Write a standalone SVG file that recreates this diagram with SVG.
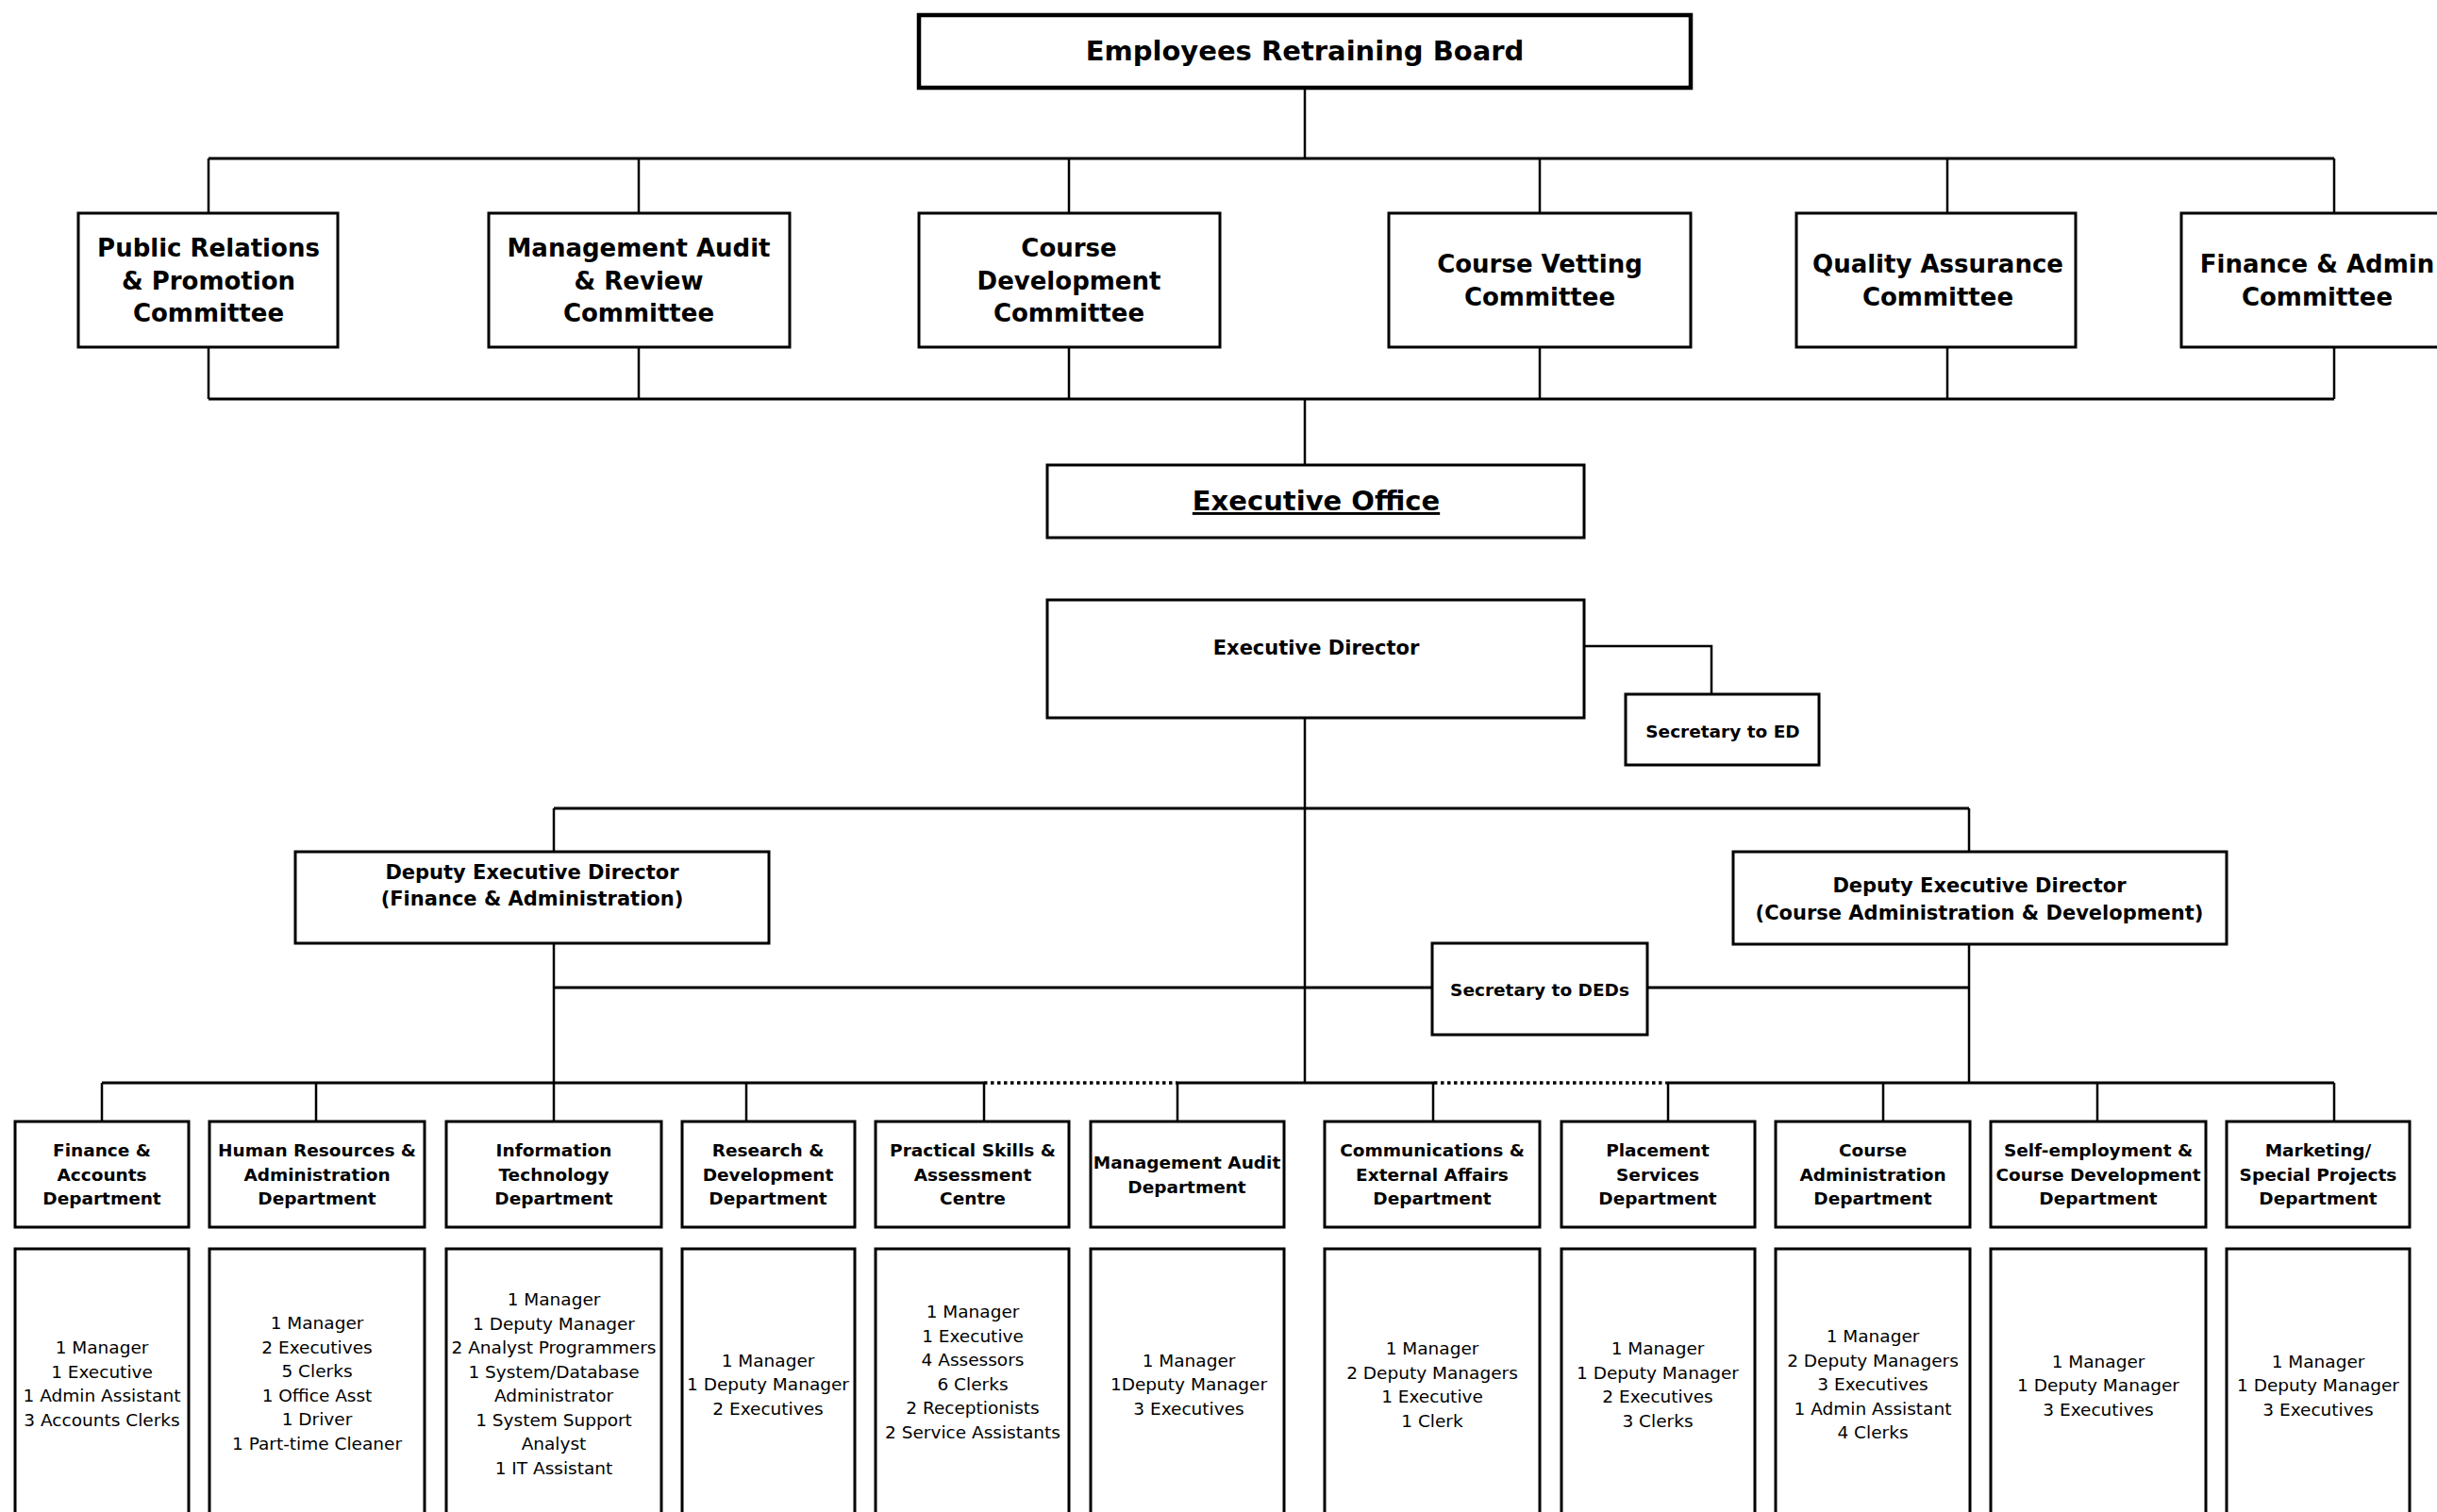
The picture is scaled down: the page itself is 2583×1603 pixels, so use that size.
<svg xmlns="http://www.w3.org/2000/svg" width="2583" height="1603" viewBox="0 0 2583 1603">
<style>
.box{fill:#fff;stroke:#000;stroke-width:3}
.board{stroke-width:4.5}
.ln{stroke:#000;stroke-width:2.5;fill:none}
.bus{stroke-width:3.2}
.dot{stroke-dasharray:3.5 3.5;stroke-width:3.5}
text{font-family:"DejaVu Sans",Verdana,sans-serif;text-anchor:middle;fill:#000}
.b{font-weight:bold}
.c{font-size:26px;font-weight:bold}
.h{font-size:18.5px;font-weight:bold}
.s{font-size:18.5px}
</style>
<rect width="2583" height="1603" fill="#fff"/>
<g id="connectors">
<path class="ln" d="M1383 94V168"/>
<path class="ln bus" d="M221 168H2474"/>
<path class="ln" d="M221 168V226M677 168V226M1133 168V226M1632 168V226M2064 168V226M2474 168V226"/>
<path class="ln" d="M221 368V423M677 368V423M1133 368V423M1632 368V423M2064 368V423M2474 368V423"/>
<path class="ln bus" d="M221 423H2474"/>
<path class="ln" d="M1383 423V493"/>
<path class="ln" d="M1679 685H1814V736"/>
<path class="ln" d="M1383 761V1148"/>
<path class="ln bus" d="M587 857H2087"/>
<path class="ln" d="M587 857V903M2087 857V903"/>
<path class="ln" d="M587 1000V1148M2087 1001V1148"/>
<path class="ln bus" d="M587 1047H1518M1746 1047H2087"/>
<path class="ln bus" d="M108 1148H1043M1248 1148H1520M1765 1148H2474"/>
<path class="ln dot" d="M1043 1148H1248M1520 1148H1765"/>
<path class="ln" d="M108 1148V1189M335 1148V1189M587 1148V1189M791 1148V1189M1043 1148V1189M1248 1148V1189M1519 1148V1189M1768 1148V1189M1996 1148V1189M2223 1148V1189M2474 1148V1189"/>
</g>
<g id="board"><rect class="box board" x="974" y="16" width="818" height="77"/><text class="b" x="1383" y="64" font-size="29">Employees Retraining Board</text></g>
<g id="cm-pr"><rect class="box" x="83" y="226" width="275" height="142"/><text class="c" x="221"><tspan x="221" y="272">Public Relations</tspan><tspan x="221" y="306.5">&amp; Promotion</tspan><tspan x="221" y="341">Committee</tspan></text></g>
<g id="cm-ma"><rect class="box" x="518" y="226" width="319" height="142"/><text class="c" x="677"><tspan x="677" y="272">Management Audit</tspan><tspan x="677" y="306.5">&amp; Review</tspan><tspan x="677" y="341">Committee</tspan></text></g>
<g id="cm-cd"><rect class="box" x="974" y="226" width="319" height="142"/><text class="c" x="1133"><tspan x="1133" y="272">Course</tspan><tspan x="1133" y="306.5">Development</tspan><tspan x="1133" y="341">Committee</tspan></text></g>
<g id="cm-cv"><rect class="box" x="1472" y="226" width="320" height="142"/><text class="c" x="1632"><tspan x="1632" y="289">Course Vetting</tspan><tspan x="1632" y="324">Committee</tspan></text></g>
<g id="cm-qa"><rect class="box" x="1904" y="226" width="296" height="142"/><text class="c" x="2054"><tspan x="2054" y="289">Quality Assurance</tspan><tspan x="2054" y="324">Committee</tspan></text></g>
<g id="cm-fa"><rect class="box" x="2312" y="226" width="300" height="142"/><text class="c" x="2456"><tspan x="2456" y="289">Finance &amp; Admin</tspan><tspan x="2456" y="324">Committee</tspan></text></g>
<g id="exec-office"><rect class="box" x="1110" y="493" width="569" height="77"/><text class="b" x="1395" y="541" font-size="29" text-decoration="underline">Executive Office</text></g>
<g id="exec-director"><rect class="box" x="1110" y="636" width="569" height="125"/><text class="b" x="1395" y="694" font-size="21">Executive Director</text></g>
<g id="sec-ed"><rect class="box" x="1723" y="736" width="205" height="75"/><text class="h" x="1826" y="782">Secretary to ED</text></g>
<g id="ded-fa"><rect class="box" x="313" y="903" width="502" height="97"/><text class="b" font-size="21"><tspan x="564" y="932">Deputy Executive Director</tspan><tspan x="564" y="960">(Finance &amp; Administration)</tspan></text></g>
<g id="ded-cad"><rect class="box" x="1837" y="903" width="523" height="98"/><text class="b" font-size="21"><tspan x="2098" y="946">Deputy Executive Director</tspan><tspan x="2098" y="975">(Course Administration &amp; Development)</tspan></text></g>
<g id="sec-deds"><rect class="box" x="1518" y="1000" width="228" height="97"/><text class="h" x="1632" y="1056">Secretary to DEDs</text></g>
<g id="d-fin"><rect class="box" x="16" y="1189" width="184" height="112"/><text class="h"><tspan x="108" y="1226">Finance &amp;</tspan><tspan x="108" y="1251.5">Accounts</tspan><tspan x="108" y="1277">Department</tspan></text>
<rect class="box" x="16" y="1324" width="184" height="300"/><text class="s"><tspan x="108" y="1435">1 Manager</tspan><tspan x="108" y="1460.5">1 Executive</tspan><tspan x="108" y="1486">1 Admin Assistant</tspan><tspan x="108" y="1511.5">3 Accounts Clerks</tspan></text></g>
<g id="d-hr"><rect class="box" x="222" y="1189" width="228" height="112"/><text class="h"><tspan x="336" y="1226">Human Resources &amp;</tspan><tspan x="336" y="1251.5">Administration</tspan><tspan x="336" y="1277">Department</tspan></text>
<rect class="box" x="222" y="1324" width="228" height="300"/><text class="s"><tspan x="336" y="1409">1 Manager</tspan><tspan x="336" y="1434.5">2 Executives</tspan><tspan x="336" y="1460">5 Clerks</tspan><tspan x="336" y="1485.5">1 Office Asst</tspan><tspan x="336" y="1511">1 Driver</tspan><tspan x="336" y="1536.5">1 Part-time Cleaner</tspan></text></g>
<g id="d-it"><rect class="box" x="473" y="1189" width="228" height="112"/><text class="h"><tspan x="587" y="1226">Information</tspan><tspan x="587" y="1251.5">Technology</tspan><tspan x="587" y="1277">Department</tspan></text>
<rect class="box" x="473" y="1324" width="228" height="300"/><text class="s"><tspan x="587" y="1384">1 Manager</tspan><tspan x="587" y="1409.5">1 Deputy Manager</tspan><tspan x="587" y="1435">2 Analyst Programmers</tspan><tspan x="587" y="1460.5">1 System/Database</tspan><tspan x="587" y="1486">Administrator</tspan><tspan x="587" y="1511.5">1 System Support</tspan><tspan x="587" y="1537">Analyst</tspan><tspan x="587" y="1562.5">1 IT Assistant</tspan></text></g>
<g id="d-rd"><rect class="box" x="723" y="1189" width="183" height="112"/><text class="h"><tspan x="814" y="1226">Research &amp;</tspan><tspan x="814" y="1251.5">Development</tspan><tspan x="814" y="1277">Department</tspan></text>
<rect class="box" x="723" y="1324" width="183" height="300"/><text class="s"><tspan x="814" y="1448.5">1 Manager</tspan><tspan x="814" y="1474">1 Deputy Manager</tspan><tspan x="814" y="1499.5">2 Executives</tspan></text></g>
<g id="d-ps"><rect class="box" x="928" y="1189" width="205" height="112"/><text class="h"><tspan x="1031" y="1226">Practical Skills &amp;</tspan><tspan x="1031" y="1251.5">Assessment</tspan><tspan x="1031" y="1277">Centre</tspan></text>
<rect class="box" x="928" y="1324" width="205" height="300"/><text class="s"><tspan x="1031" y="1397">1 Manager</tspan><tspan x="1031" y="1422.5">1 Executive</tspan><tspan x="1031" y="1448">4 Assessors</tspan><tspan x="1031" y="1473.5">6 Clerks</tspan><tspan x="1031" y="1499">2 Receptionists</tspan><tspan x="1031" y="1524.5">2 Service Assistants</tspan></text></g>
<g id="d-ma"><rect class="box" x="1156" y="1189" width="205" height="112"/><text class="h"><tspan x="1258" y="1239">Management Audit</tspan><tspan x="1258" y="1264.5">Department</tspan></text>
<rect class="box" x="1156" y="1324" width="205" height="300"/><text class="s"><tspan x="1260" y="1448.5">1 Manager</tspan><tspan x="1260" y="1474">1Deputy Manager</tspan><tspan x="1260" y="1499.5">3 Executives</tspan></text></g>
<g id="d-ce"><rect class="box" x="1404" y="1189" width="228" height="112"/><text class="h"><tspan x="1518" y="1226">Communications &amp;</tspan><tspan x="1518" y="1251.5">External Affairs</tspan><tspan x="1518" y="1277">Department</tspan></text>
<rect class="box" x="1404" y="1324" width="228" height="300"/><text class="s"><tspan x="1518" y="1436">1 Manager</tspan><tspan x="1518" y="1461.5">2 Deputy Managers</tspan><tspan x="1518" y="1487">1 Executive</tspan><tspan x="1518" y="1512.5">1 Clerk</tspan></text></g>
<g id="d-pl"><rect class="box" x="1655" y="1189" width="205" height="112"/><text class="h"><tspan x="1757" y="1226">Placement</tspan><tspan x="1757" y="1251.5">Services</tspan><tspan x="1757" y="1277">Department</tspan></text>
<rect class="box" x="1655" y="1324" width="205" height="300"/><text class="s"><tspan x="1757" y="1436">1 Manager</tspan><tspan x="1757" y="1461.5">1 Deputy Manager</tspan><tspan x="1757" y="1487">2 Executives</tspan><tspan x="1757" y="1512.5">3 Clerks</tspan></text></g>
<g id="d-ca"><rect class="box" x="1882" y="1189" width="206" height="112"/><text class="h"><tspan x="1985" y="1226">Course</tspan><tspan x="1985" y="1251.5">Administration</tspan><tspan x="1985" y="1277">Department</tspan></text>
<rect class="box" x="1882" y="1324" width="206" height="300"/><text class="s"><tspan x="1985" y="1423">1 Manager</tspan><tspan x="1985" y="1448.5">2 Deputy Managers</tspan><tspan x="1985" y="1474">3 Executives</tspan><tspan x="1985" y="1499.5">1 Admin Assistant</tspan><tspan x="1985" y="1525">4 Clerks</tspan></text></g>
<g id="d-se"><rect class="box" x="2110" y="1189" width="228" height="112"/><text class="h"><tspan x="2224" y="1226">Self-employment &amp;</tspan><tspan x="2224" y="1251.5">Course Development</tspan><tspan x="2224" y="1277">Department</tspan></text>
<rect class="box" x="2110" y="1324" width="228" height="300"/><text class="s"><tspan x="2224" y="1449.5">1 Manager</tspan><tspan x="2224" y="1475">1 Deputy Manager</tspan><tspan x="2224" y="1500.5">3 Executives</tspan></text></g>
<g id="d-mk"><rect class="box" x="2360" y="1189" width="194" height="112"/><text class="h"><tspan x="2457" y="1226">Marketing/</tspan><tspan x="2457" y="1251.5">Special Projects</tspan><tspan x="2457" y="1277">Department</tspan></text>
<rect class="box" x="2360" y="1324" width="194" height="300"/><text class="s"><tspan x="2457" y="1449.5">1 Manager</tspan><tspan x="2457" y="1475">1 Deputy Manager</tspan><tspan x="2457" y="1500.5">3 Executives</tspan></text></g>
</svg>
